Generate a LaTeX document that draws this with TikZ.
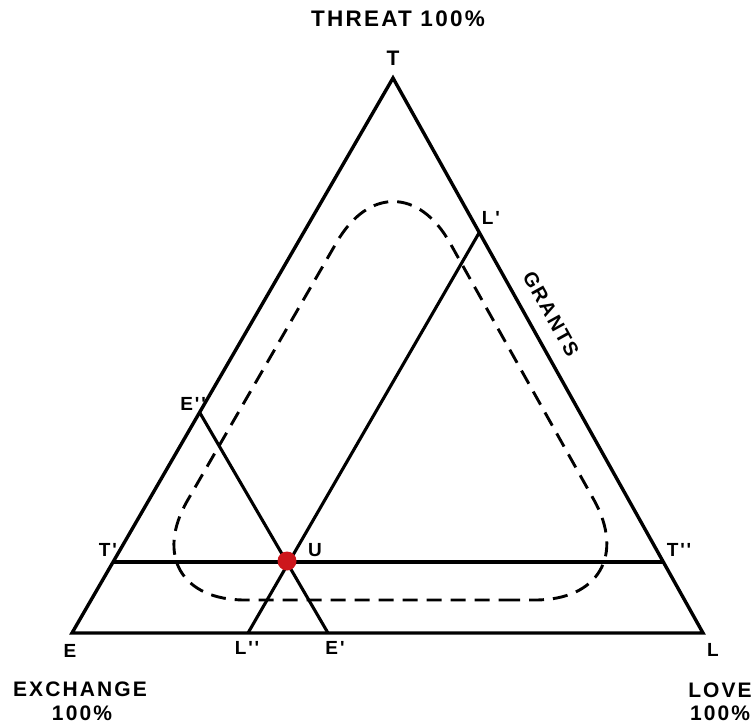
\documentclass[tikz,border=0pt]{standalone}
\usepackage{fontspec}
\newfontfamily\lab{Liberation Sans}[LetterSpace=10]
\definecolor{dotred}{RGB}{205,22,28}
\tikzset{
  frame/.style={line width=3.4pt, line join=miter},
  guide/.style={line width=3.1pt},
  dashline/.style={line width=2.9pt, dash pattern=on 15pt off 9pt, rounded corners=115pt},
  bigtext/.style={font=\lab\bfseries\fontsize{21}{23}\selectfont, inner sep=0pt, align=center},
  ptext/.style={font=\lab\bfseries\fontsize{19}{21}\selectfont, inner sep=0pt}
}
\begin{document}
\begin{tikzpicture}[x=1pt,y=-1pt]
\useasboundingbox (0,0) rectangle (755,726);
% vertices and points
\coordinate (T) at (393,78);
\coordinate (E) at (72,633);
\coordinate (L) at (703,633);
\coordinate (Tp) at (113,562);
\coordinate (Tpp) at (663,562);
\coordinate (Epp) at (200,413);
\coordinate (Ep) at (328,633);
\coordinate (Lp) at (479,233);
\coordinate (Lpp) at (248,633);
% main triangle
\draw[frame] (E) -- (L) -- (T) -- cycle;
% dashed rounded region
\draw[dashline] (390,600) -- (650,600) -- (394,143) -- (130,600) -- cycle;
% guide lines
\draw[guide] (Tp) -- (Tpp);
\draw[guide] (Epp) -- (Ep);
\draw[guide] (Lp) -- (Lpp);
% point U
\node[circle, fill=dotred, minimum size=19pt, inner sep=0pt] (U) at (287,561) {};
% labels
\node[bigtext, font=\lab\bfseries\fontsize{22.5}{24}\selectfont] (threat) at (398,19) {THREAT 100\%};
\node[ptext, font=\lab\bfseries\fontsize{21}{23}\selectfont] (lT) at (393,58) {T};
\node[ptext] (lLp) at (491,218) {L'};
\node[ptext, font=\lab\bfseries\fontsize{20}{22}\selectfont, rotate=-61] (grants) at (551,314) {GRANTS};
\node[ptext, anchor=east] (lEpp) at (206,404) {E''};
\node[ptext] (lTp) at (108,550) {T'};
\node[ptext] (lU) at (315,550) {U};
\node[ptext] (lTpp) at (679,550) {T''};
\node[ptext] (lE) at (70,651) {E};
\node[ptext] (lLpp) at (247,648) {L''};
\node[ptext] (lEp) at (335,648) {E'};
\node[ptext] (lL) at (713,650) {L};
\node[bigtext] (exch) at (80,689) {EXCHANGE};
\node[bigtext] (exch2) at (82,713) {100\%};
\node[bigtext] (love) at (720,690) {LOVE};
\node[bigtext] (love2) at (720,713) {100\%};
\end{tikzpicture}
\end{document}
